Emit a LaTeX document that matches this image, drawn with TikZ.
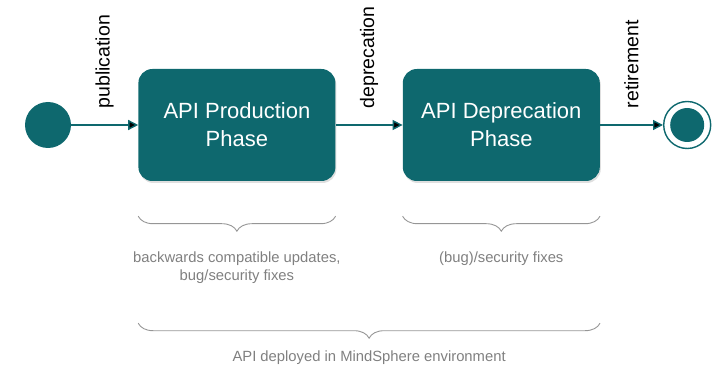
\documentclass[tikz,border=0pt]{standalone}
\usepackage{fontspec}
\setmainfont{Liberation Sans}
\usetikzlibrary{arrows.meta}
\usetikzlibrary{decorations.pathreplacing}
\usetikzlibrary{positioning}
\usetikzlibrary{shadows}

\definecolor{phaseteal}{RGB}{14,104,110}
\definecolor{notegray}{RGB}{128,128,128}
\definecolor{bracegray}{RGB}{150,150,150}

\begin{document}
\begin{tikzpicture}[x=1pt,y=-1pt,
    startstate/.style={circle,fill=phaseteal,minimum size=46pt,inner sep=0pt},
    endstate/.style={circle,draw=phaseteal,line width=1.4pt,minimum size=47pt,inner sep=0pt,
      path picture={\fill[phaseteal] (path picture bounding box.center) circle (17pt);}},
    phase/.style={rectangle,fill=phaseteal,rounded corners=14pt,minimum width=197pt,minimum height=112pt,
      text=white,align=center,font=\fontsize{22}{28}\selectfont,
      drop shadow={opacity=0.25,shadow xshift=1pt,shadow yshift=-2pt}},
    trans/.style={draw=phaseteal,line width=1.4pt,-{Triangle[length=10pt,width=10pt]}},
    translab/.style={midway,rotate=90,anchor=west,inner xsep=16pt,inner ysep=1pt,
      font=\fontsize{19.5}{22}\selectfont},
    bracket/.style={draw=bracegray,line width=0.9pt,decorate,decoration={brace,mirror,amplitude=15pt}},
    note/.style={midway,below,inner sep=2pt,text=notegray,align=center,font=\fontsize{14.8}{18}\selectfont}
  ]

  \useasboundingbox (0,0) rectangle (720,366);

  \node [startstate] (start) at (48,125) {};
  \node [phase,right=67pt of start] (prod) {API Production\\Phase};
  \node [phase,right=67pt of prod] (depr) {API Deprecation\\Phase};
  \node [endstate,right=63pt of depr] (end) {};

  \path [trans]
    (start) edge node [translab] {publication} (prod)
    (prod)  edge node [translab] {deprecation} (depr)
    (depr)  edge node [translab] {retirement} (end);

  % brackets under the phases
  \draw [bracket] ([yshift=-35pt]prod.south west) -- ([yshift=-35pt]prod.south east)
    node [note,below=33pt] {backwards compatible updates,\\bug/security fixes};
  \draw [bracket] ([yshift=-35pt]depr.south west) -- ([yshift=-35pt]depr.south east)
    node [note,below=33pt] {(bug)/security fixes};
  \draw [bracket] ([yshift=-142pt]prod.south west) -- ([yshift=-142pt]depr.south east)
    node [note,below=25pt] {API deployed in MindSphere environment};

\end{tikzpicture}
\end{document}
